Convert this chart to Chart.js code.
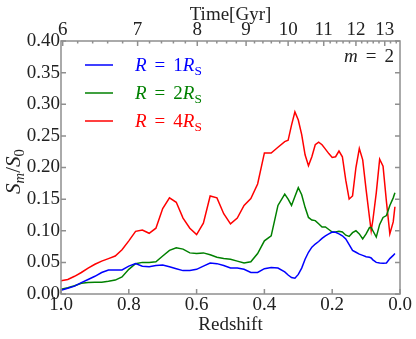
<!DOCTYPE html>
<html>
<head>
<meta charset="utf-8">
<script src="https://cdn.jsdelivr.net/npm/chart.js@4.4.1/dist/chart.umd.min.js"></script>
<style>
  body { margin: 0; background: #fff; }
  canvas { display: block; }
</style>
</head>
<body>
<canvas id="chart" width="416" height="339"></canvas>
<script>
// redshift grid (shared by all three series)
const redshift = [1.00,0.98,0.96,0.94,0.92,0.90,0.88,0.86,0.84,0.82,0.80,0.78,0.76,0.74,0.72,0.70,0.68,0.66,0.64,0.62,0.60,0.58,0.56,0.54,0.52,0.50,0.48,0.46,0.44,0.42,0.40,0.38,0.36,0.34,
  0.33,0.32,0.31,0.30,0.29,0.28,0.27,0.26,0.25,0.24,0.23,0.22,0.21,0.20,0.19,0.18,0.17,0.16,0.15,0.14,0.13,0.12,0.11,0.10,0.09,
  0.085,0.08,0.07,0.06,0.05,0.04,0.03,0.02,0.015];

const r1 = [0.006,0.009,0.0125,0.018,0.023,0.028,0.034,0.038,0.038,0.038,0.044,0.048,0.044,0.043,0.045,0.046,0.043,0.040,0.037,0.037,0.039,0.044,0.049,0.048,0.045,0.041,0.041,0.039,0.034,0.034,0.040,0.042,0.041,0.035,
  0.030,0.026,0.025,0.031,0.041,0.055,0.066,0.074,0.079,0.083,0.088,0.092,0.095,0.098,0.0975,0.095,0.092,0.087,0.078,0.069,0.066,0.063,0.061,0.059,0.058,
  0.057,0.054,0.050,0.049,0.0485,0.049,0.056,0.061,0.064];

const r2 = [0.0074,0.010,0.013,0.017,0.018,0.0185,0.0185,0.020,0.022,0.027,0.039,0.048,0.050,0.050,0.051,0.060,0.069,0.073,0.071,0.065,0.064,0.065,0.062,0.058,0.056,0.055,0.052,0.049,0.051,0.064,0.084,0.092,0.140,0.158,
  0.150,0.140,0.154,0.168,0.157,0.137,0.121,0.117,0.116,0.111,0.106,0.106,0.102,0.098,0.098,0.099,0.098,0.093,0.091,0.097,0.100,0.095,0.087,0.095,0.105,
  0.105,0.100,0.090,0.110,0.121,0.124,0.140,0.152,0.160];

const r4 = [0.021,0.023,0.028,0.034,0.041,0.047,0.052,0.056,0.060,0.070,0.084,0.099,0.101,0.096,0.104,0.135,0.152,0.145,0.120,0.104,0.094,0.112,0.155,0.152,0.127,0.111,0.120,0.140,0.151,0.174,0.223,0.223,0.232,0.241,
  0.243,0.267,0.288,0.275,0.252,0.220,0.203,0.217,0.236,0.240,0.236,0.229,0.222,0.216,0.217,0.226,0.217,0.180,0.150,0.155,0.200,0.230,0.212,0.165,0.121,
  0.100,0.117,0.160,0.213,0.202,0.146,0.095,0.114,0.138];

// top axis: cosmic time labels and the redshift where each sits
const timeLabels = ['6','7','8','9','10','11','12','13'];
const timeZ = [0.995,0.774,0.598,0.454,0.33,0.225,0.13,0.045];

const radii = ['1','2','4'];
const colors = ['#0000ff','#008000','#ff0000'];
const series = [r1, r2, r4];

const FONT = '"Liberation Serif", "Times New Roman", serif';
const frameColor = '#8f8f8f';
const textColor = '#222';

// draw a run of math-ish text: [text, style] with style i=italic, s=subscript
function drawRich(ctx, runs, x, y, size, color, align) {
  const parts = runs.map(([t, st]) => {
    const sub = st.includes('s');
    const fs = sub ? size * 0.7 : size;
    const font = (st.includes('i') ? 'italic ' : '') + fs + 'px ' + FONT;
    ctx.font = font;
    const w = t === ' ' ? size * 0.42 : ctx.measureText(t).width;
    return {t, font, w, dy: sub ? size * 0.22 : 0};
  });
  const total = parts.reduce((s, p) => s + p.w, 0);
  let cx = align === 'right' ? x - total : align === 'center' ? x - total / 2 : x;
  ctx.fillStyle = color;
  ctx.textBaseline = 'alphabetic';
  ctx.textAlign = 'left';
  parts.forEach(p => {
    if (p.t !== ' ') { ctx.font = p.font; ctx.fillText(p.t, cx, y + p.dy); }
    cx += p.w;
  });
}

const decor = {
  id: 'decor',
  afterDraw(chart) {
    const {ctx, chartArea: a, scales} = chart;
    ctx.save();
    ctx.strokeStyle = frameColor;
    ctx.lineWidth = 1.5;
    ctx.beginPath();
    scales.x.ticks.forEach(t => {
      const px = scales.x.getPixelForValue(t.value);
      ctx.moveTo(px, a.bottom); ctx.lineTo(px, a.bottom - 5);
    });
    scales.y.ticks.forEach(t => {
      const py = scales.y.getPixelForValue(t.value);
      ctx.moveTo(a.left, py); ctx.lineTo(a.left + 5, py);
      ctx.moveTo(a.right, py); ctx.lineTo(a.right - 5, py);
    });
    scales.x2.ticks.forEach(t => {
      const px = scales.x2.getPixelForValue(t.value);
      ctx.moveTo(px, a.top); ctx.lineTo(px, a.top + 5);
    });
    // minor ticks every 0.2 Gyr
    for (let i = 0; i < timeZ.length; i++) {
      const z0 = timeZ[i];
      const dz = i < timeZ.length - 1 ? (timeZ[i + 1] - z0) / 5 : (timeZ[i] - timeZ[i - 1]) / 5;
      for (let k = 1; k < 5; k++) {
        const z = z0 + dz * k;
        if (z <= 0) break;
        const px = scales.x2.getPixelForValue(z);
        ctx.moveTo(px, a.top); ctx.lineTo(px, a.top + 2.5);
      }
    }
    ctx.stroke();
    ctx.strokeRect(a.left, a.top, a.right - a.left, a.bottom - a.top);

    // legend
    chart.data.datasets.forEach((ds, i) => {
      const ly = a.top + 24 + i * 28;
      ctx.strokeStyle = ds.borderColor;
      ctx.lineWidth = 1.5;
      ctx.beginPath();
      ctx.moveTo(a.left + 24, ly); ctx.lineTo(a.left + 52, ly);
      ctx.stroke();
      drawRich(ctx, [['R','i'],[' ',''],['=',''],[' ',''],[radii[i],''],['R','i'],['S','s']],
        a.left + 74, ly + 5.7, 19, ds.borderColor, 'left');
    });

    // panel tag
    drawRich(ctx, [['m','i'],[' ',''],['=',''],[' ',''],['2','']], a.right - 6, a.top + 21, 19, textColor, 'right');

    // y axis title
    ctx.translate(19.5, (a.top + a.bottom) / 2 + 4);
    ctx.rotate(-Math.PI / 2);
    drawRich(ctx, [['S','i'],['m','is'],['/',''],['S','i'],['0','s']], 0, 0, 21, textColor, 'center');
    ctx.restore();
  }
};

new Chart(document.getElementById('chart'), {
  type: 'line',
  plugins: [decor],
  data: {
    datasets: series.map((vals, i) => ({
      label: 'R = ' + radii[i] + 'R_S',
      data: redshift.map((z, j) => ({x: z, y: vals[j]})),
      borderColor: colors[i],
      borderWidth: 1.5,
      pointRadius: 0,
      tension: 0,
      fill: false
    }))
  },
  options: {
    responsive: false,
    animation: false,
    devicePixelRatio: 1,
    layout: { padding: { left: 0, right: 16, top: 0, bottom: 0 } },
    plugins: { legend: { display: false }, tooltip: { enabled: false } },
    scales: {
      x: {
        type: 'linear',
        position: 'bottom',
        reverse: true,
        min: 0, max: 1,
        afterFit: s => { s.height = 45; },
        grid: { display: false, drawTicks: false },
        border: { display: false },
        ticks: {
          stepSize: 0.2, autoSkip: false, maxRotation: 0, padding: 0,
          color: textColor, font: { family: FONT, size: 19 },
          callback: v => v.toFixed(1)
        },
        title: {
          display: true, text: 'Redshift', color: textColor,
          font: { family: FONT, size: 19 }, padding: { top: 0, bottom: 3 }
        }
      },
      x2: {
        type: 'linear',
        position: 'top',
        reverse: true,
        min: 0, max: 1,
        afterFit: s => { s.height = 41; },
        afterBuildTicks: s => { s.ticks = timeZ.map(v => ({value: v})); },
        grid: { display: false, drawTicks: false },
        border: { display: false },
        ticks: {
          autoSkip: false, maxRotation: 0, padding: 0,
          color: textColor, font: { family: FONT, size: 19 },
          callback: (v, i) => timeLabels[i]
        },
        title: {
          display: true, text: 'Time[Gyr]', color: textColor,
          font: { family: FONT, size: 19 }, padding: { top: 4, bottom: 0 }
        }
      },
      y: {
        min: 0, max: 0.4,
        afterFit: s => { s.width = 61; },
        grid: { display: false, drawTicks: false },
        border: { display: false },
        ticks: {
          stepSize: 0.05, padding: 1,
          color: textColor, font: { family: FONT, size: 19 },
          callback: v => v.toFixed(2)
        }
      }
    }
  }
});
</script>
</body>
</html>
